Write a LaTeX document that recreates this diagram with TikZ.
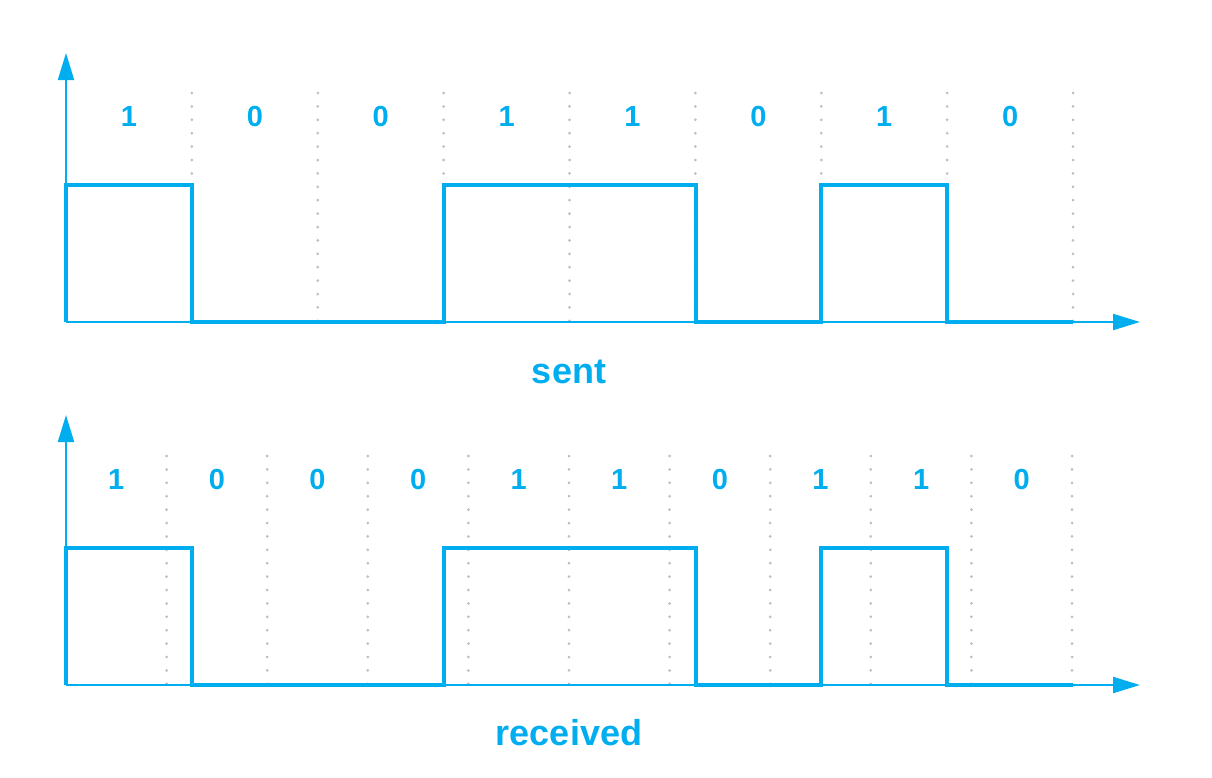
\documentclass[tikz,border=0pt]{standalone}
\usepackage{fontspec}
\setmainfont{Liberation Sans}
\usetikzlibrary{arrows.meta}
\definecolor{sigblue}{RGB}{0,174,239}
\definecolor{dotgrey}{RGB}{190,190,190}
\tikzset{
  axisline/.style={draw=sigblue, line width=2pt, -{Triangle[length=27pt,width=16pt]}},
  signal/.style={draw=sigblue, line width=4.5pt, line join=miter},
  gridline/.style={draw=dotgrey, line width=3pt, line cap=round, dash pattern=on 0pt off 13.4pt},
  bitlabel/.style={text=sigblue, font=\fontsize{29}{32}\selectfont\bfseries, inner sep=0pt},
  caption/.style={text=sigblue, font=\fontsize{36}{40}\selectfont\bfseries, inner sep=0pt}
}
\begin{document}
\begin{tikzpicture}[x=1pt,y=-1pt]
\useasboundingbox (0,0) rectangle (1212,777);
% ---------- top panel ----------
\foreach \i in {1,...,8} {
  \coordinate (tg\i a) at ({66+125.875*\i},93);
  \coordinate (tg\i b) at ({66+125.875*\i},322);
  \path[gridline] (tg\i a) -- (tg\i b);
}
\coordinate (tO) at (66,322);
\coordinate (tY) at (66,53);
\coordinate (tX) at (1140,322);
\path[axisline] (tO) -- (tY);
\path[axisline] (tO) -- (tX);
\path[signal] (66,322) -- (66,185) -- (192,185) -- (192,322) -- (444,322) -- (444,185)
  -- (696,185) -- (696,322) -- (821,322) -- (821,185) -- (947,185) -- (947,322) -- (1073,322);
\foreach \b [count=\i] in {1,0,0,1,1,0,1,0} {
  \node[bitlabel] (tb\i) at ({66+125.875*(\i-0.5)},117) {\b};
}
\node[caption] (sent) at (569,372) {sent};
% ---------- bottom panel ----------
\foreach \i in {1,...,10} {
  \coordinate (bg\i a) at ({66+100.6*\i},456);
  \coordinate (bg\i b) at ({66+100.6*\i},685);
  \path[gridline] (bg\i a) -- (bg\i b);
}
\coordinate (bO) at (66,685);
\coordinate (bY) at (66,415);
\coordinate (bX) at (1140,685);
\path[axisline] (bO) -- (bY);
\path[axisline] (bO) -- (bX);
\path[signal] (66,685) -- (66,548) -- (192,548) -- (192,685) -- (444,685) -- (444,548)
  -- (696,548) -- (696,685) -- (821,685) -- (821,548) -- (947,548) -- (947,685) -- (1073,685);
\foreach \b [count=\i] in {1,0,0,0,1,1,0,1,1,0} {
  \node[bitlabel] (bb\i) at ({66+100.6*(\i-0.5)},480) {\b};
}
\node[caption] (received) at (569,733) {received};
\end{tikzpicture}
\end{document}
